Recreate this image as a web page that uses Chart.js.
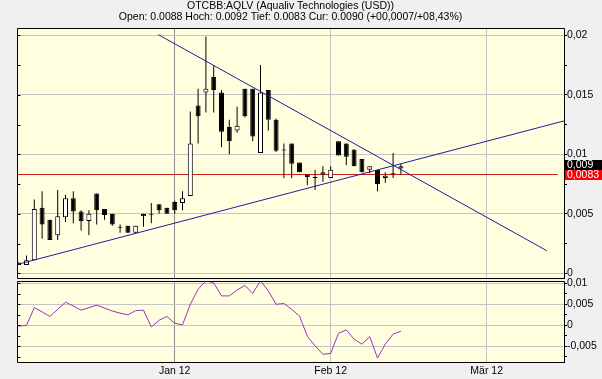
<!DOCTYPE html>
<html><head><meta charset="utf-8">
<script src="https://cdn.jsdelivr.net/npm/chart.js@4.4.0/dist/chart.umd.min.js"></script>
<style>
html,body{margin:0;padding:0;background:#F0F0F0;}
#wrap{position:relative;width:602px;height:379px;overflow:hidden;background:#F0F0F0;}
#c1{position:absolute;left:0;top:0;}
#c2{position:absolute;left:0;top:268px;}
</style></head><body>
<div id="wrap">
<canvas id="c1" width="602" height="280" style="width:602px;height:280px"></canvas>
<canvas id="c2" width="602" height="111" style="width:602px;height:111px"></canvas>
</div>
<script>
// ---- data ----
const days = ['02.12.','05.12.','06.12.','07.12.','08.12.','09.12.','12.12.','13.12.','14.12.','15.12.',
  '16.12.','19.12.','20.12.','21.12.','22.12.','23.12.','27.12.','28.12.','29.12.','30.12.',
  '03.01.','04.01.','05.01.','06.01.','09.01.','10.01.','11.01.','12.01.','13.01.','17.01.',
  '18.01.','19.01.','20.01.','23.01.','24.01.','25.01.','26.01.','27.01.','30.01.','31.01.',
  '01.02.','02.02.','03.02.','06.02.','07.02.','08.02.','09.02.','10.02.','13.02.','14.02.'];
const opens  = [0.0009,0.0007,0.0011,0.0055,0.0045,0.0032,0.0047,0.0063,0.0052,0.0044,
  0.0067,0.0054,0.0050,0.0039,0.0040,0.0034,0.0050,0.0050,0.0058,0.0055,
  0.0060,0.0059,0.0065,0.0141,0.0152,0.0165,0.0152,0.0123,0.0120,0.0155,
  0.0155,0.0101,0.0154,0.0129,0.0104,0.0109,0.0093,0.0083,0.0081,0.0083,
  0.0080,0.0111,0.0109,0.0104,0.0096,0.0087,0.0087,0.0080,0.0084,0.0088];
const highs  = [0.0009,0.0015,0.0062,0.0069,0.0045,0.0070,0.0066,0.0069,0.0053,0.0053,
  0.0067,0.0054,0.0050,0.0041,0.0040,0.0040,0.0050,0.0059,0.0058,0.0055,
  0.0061,0.0069,0.0136,0.0155,0.0199,0.0175,0.0154,0.0129,0.0140,0.0155,
  0.0155,0.0175,0.0154,0.0130,0.0109,0.0109,0.0093,0.0083,0.0087,0.0090,
  0.0090,0.0111,0.0109,0.0104,0.0096,0.0090,0.0087,0.0085,0.0101,0.0092];
const lows   = [0.0007,0.0007,0.0011,0.0029,0.0028,0.0028,0.0043,0.0042,0.0036,0.0032,
  0.0041,0.0045,0.0040,0.0034,0.0034,0.0034,0.0039,0.0042,0.0050,0.0050,
  0.0050,0.0053,0.0065,0.0109,0.0135,0.0135,0.0106,0.0100,0.0118,0.0131,
  0.0111,0.0101,0.0120,0.0102,0.0080,0.0080,0.0085,0.0074,0.0070,0.0077,
  0.0080,0.0099,0.0091,0.0090,0.0085,0.0084,0.0069,0.0076,0.0080,0.0083];
const closes = [0.0007,0.0011,0.0054,0.0041,0.0028,0.0048,0.0063,0.0052,0.0044,0.0050,
  0.0053,0.0049,0.0041,0.0039,0.0034,0.0040,0.0048,0.0050,0.0053,0.0050,
  0.0053,0.0063,0.0109,0.0132,0.0155,0.0154,0.0119,0.0111,0.0124,0.0132,
  0.0115,0.0152,0.0129,0.0103,0.0104,0.0092,0.0085,0.0081,0.0081,0.0085,
  0.0087,0.0099,0.0098,0.0090,0.0085,0.0090,0.0075,0.0082,0.0083,0.0090];
const indicator = [-0.0002,0.0000,0.0042,0.0032,0.0021,0.0038,0.0055,0.0046,0.0036,0.0042,
  0.0048,0.0041,0.0034,0.0029,0.0025,0.0035,0.0036,-0.0004,0.0012,0.0021,
  0.0005,0.0001,0.0050,0.0086,0.0106,0.0101,0.0070,0.0070,0.0084,0.0095,
  0.0076,0.0106,0.0082,0.0050,0.0052,0.0038,0.0022,-0.0026,-0.0049,-0.0069,
  -0.0067,-0.0019,-0.0011,-0.0033,-0.0045,-0.0027,-0.0078,-0.0045,-0.0021,-0.0014];
const supportLine    = [[-0.2, 0.00074], [69.9, 0.0128]];
const resistanceLine = [[17.9, 0.02005], [67.7, 0.0019]];
const lowLevel = 0.0083;
const lowLevelSpan = [-0.2, 69.1];
const lastPrice = 0.009;
const monthTicks  = [20, 40, 60];
const monthLabels = ['Jan 12', 'Feb 12', 'M\u00e4r 12'];
const mainTicks = [0, 0.0025, 0.005, 0.0075, 0.01, 0.0125, 0.015, 0.0175, 0.02];
const mainTickLabels = ['0', '', '0,005', '', '0,01', '', '0,015', '', '0,02'];
const subTicks = [-0.0075, -0.005, -0.0025, 0, 0.0025, 0.005, 0.0075, 0.01];
const subTickLabels = ['', '-0,005', '', '0', '', '0,005', '', '0,01'];
const titleLines = ['OTCBB:AQLV (Aqualiv Technologies (USD))',
  'Open: 0.0088 Hoch: 0.0092 Tief: 0.0083 Cur: 0.0090 (+00,0007/+08,43%)'];

// ---- view ----
const X_MIN = -0.218, X_MAX = 69.91;
const FAM = '"Liberation Sans", Arial, sans-serif';
const FS = 10.5;
Chart.defaults.font.family = FAM;
Chart.defaults.font.size = FS;
Chart.defaults.color = '#000';

const areaBg = { id: 'areaBg', beforeDraw(chart) {
  const {ctx, chartArea: a} = chart;
  ctx.save(); ctx.fillStyle = '#FFFFE0';
  ctx.fillRect(a.left, a.top, a.right - a.left, a.bottom - a.top); ctx.restore();
}};
const frame = { id: 'frame', afterDraw(chart) {
  const {ctx, chartArea: a} = chart;
  const L = Math.round(a.left) + 0.5, R = Math.round(a.right) + 0.5;
  const T = Math.round(a.top) + 0.5, B = Math.round(a.bottom) - 0.5;
  ctx.save(); ctx.strokeStyle = '#000'; ctx.lineWidth = 1;
  ctx.beginPath();
  ctx.moveTo(L, T); ctx.lineTo(R, T); ctx.moveTo(L, B); ctx.lineTo(R, B);
  ctx.moveTo(L, T); ctx.lineTo(L, B); ctx.moveTo(R, T); ctx.lineTo(R, B + 0.5);
  const ys = chart.scales.y;
  ys.ticks.forEach(t => {
    const py = Math.round(ys.getPixelForValue(t.value)) + 0.5;
    ctx.moveTo(L, py); ctx.lineTo(L + 3, py);
  });
  ctx.stroke(); ctx.restore();
}};
const priceTags = { id: 'priceTags', afterDraw(chart) {
  const {ctx, chartArea: a} = chart;
  const ys = chart.scales.y;
  const x0 = Math.round(a.right) + 1;
  const yr = ys.getPixelForValue(lowLevel);
  const yb = Math.min(ys.getPixelForValue(lastPrice), yr - 10);
  ctx.save();
  ctx.font = FS + 'px ' + FAM; ctx.textBaseline = 'middle'; ctx.textAlign = 'left';
  ctx.fillStyle = '#000000'; ctx.fillRect(x0, Math.round(yb - 5), 602 - x0, 10);
  ctx.fillStyle = '#FF0000'; ctx.fillRect(x0, Math.round(yr - 5), 602 - x0, 10);
  ctx.fillStyle = '#FFFFFF';
  ctx.fillText(String(lastPrice).replace('.', ','), x0 + 2, Math.round(yb) + 0.5);
  ctx.fillText(String(lowLevel).replace('.', ','), x0 + 2, Math.round(yr) + 0.5);
  ctx.restore();
}};

const xGridColor = ctx => (ctx.index === 0 ? '#8C8C8C' : '#C4C4C4');

function yAxis(min, max, vals, labels) {
  return {
    position: 'right', min, max,
    afterBuildTicks: s => { s.ticks = vals.map(v => ({value: v})); },
    afterFit: s => { s.width = 38; s.paddingTop = 0; s.paddingBottom = 0; },
    ticks: { autoSkip: false, padding: 0, color: '#000', font: {size: FS, family: FAM},
      callback: (v, i) => labels[i] },
    grid: { drawOnChartArea: true, tickLength: 3, tickColor: '#000',
      color: ctx => (labels[ctx.index] ? '#C4C4C4' : 'rgba(0,0,0,0)') },
    border: { display: false }
  };
}

const bodies = days.map((d, i) => ({x: i, y: [opens[i], closes[i]]}));
const wicks  = days.map((d, i) => ({x: i, y: [lows[i], highs[i]]}));

new Chart(document.getElementById('c1'), {
  type: 'bar',
  data: { datasets: [
    { type: 'line', data: supportLine.map(p => ({x: p[0], y: p[1]})), borderColor: '#1E1E9C',
      borderWidth: 1, pointRadius: 0, fill: false, order: 0 },
    { type: 'line', data: resistanceLine.map(p => ({x: p[0], y: p[1]})), borderColor: '#1E1E9C',
      borderWidth: 1, pointRadius: 0, fill: false, order: 0 },
    { type: 'bar', data: bodies, grouped: false, barThickness: 5, minBarLength: 1,
      borderWidth: 1, borderSkipped: false, borderColor: '#000', inflateAmount: 0,
      backgroundColor: ctx => (closes[ctx.dataIndex] >= opens[ctx.dataIndex] ? '#FFFFFF' : '#000000'),
      order: 1 },
    { type: 'bar', data: wicks, grouped: false, barThickness: 1, borderWidth: 0,
      inflateAmount: 0, backgroundColor: '#000', order: 2 },
    { type: 'line', data: lowLevelSpan.map(x => ({x, y: lowLevel})), borderColor: '#C81E1E',
      borderWidth: 1, pointRadius: 0, fill: false, order: 3 }
  ]},
  options: {
    responsive: false, animation: false, events: [],
    layout: { padding: {left: 17, right: 0, top: 0, bottom: 1} },
    plugins: {
      legend: {display: false}, tooltip: {enabled: false},
      title: { display: true, text: titleLines, fullSize: false, color: '#000',
        font: {size: FS, family: FAM, weight: 'normal', lineHeight: 11.5 / FS},
        padding: {top: 0, bottom: 5} }
    },
    scales: {
      x: { type: 'linear', min: X_MIN, max: X_MAX, display: true, offset: false,
        afterBuildTicks: s => { s.ticks = monthTicks.map(v => ({value: v})); },
        afterFit: s => { s.height = 0; s.paddingLeft = 0; s.paddingRight = 0; },
        ticks: {display: false},
        grid: {drawTicks: false, offset: false, color: xGridColor},
        border: {display: false} },
      y: yAxis(-0.00048, 0.02061, mainTicks, mainTickLabels)
    }
  },
  plugins: [areaBg, frame, priceTags]
});

new Chart(document.getElementById('c2'), {
  type: 'line',
  data: { datasets: [
    { data: indicator.map((v, i) => ({x: i, y: v})), borderColor: '#A030C0', borderWidth: 1,
      pointRadius: 0, fill: false, tension: 0 }
  ]},
  options: {
    responsive: false, animation: false, events: [],
    layout: { padding: {left: 17, right: 0, top: 13, bottom: 0} },
    plugins: { legend: {display: false}, tooltip: {enabled: false} },
    scales: {
      x: { type: 'linear', min: X_MIN, max: X_MAX, offset: false,
        afterBuildTicks: s => { s.ticks = monthTicks.map(v => ({value: v})); },
        afterFit: s => { s.height = 16; s.paddingLeft = 0; s.paddingRight = 0; },
        ticks: { autoSkip: false, maxRotation: 0, padding: 2, color: '#000',
          font: {size: FS, family: FAM},
          callback: (v, i) => monthLabels[i] },
        grid: {drawTicks: false, offset: false, color: xGridColor},
        border: {display: false} },
      y: yAxis(-0.008976, 0.010548, subTicks, subTickLabels)
    }
  },
  plugins: [areaBg, frame]
});
</script>
</body></html>
